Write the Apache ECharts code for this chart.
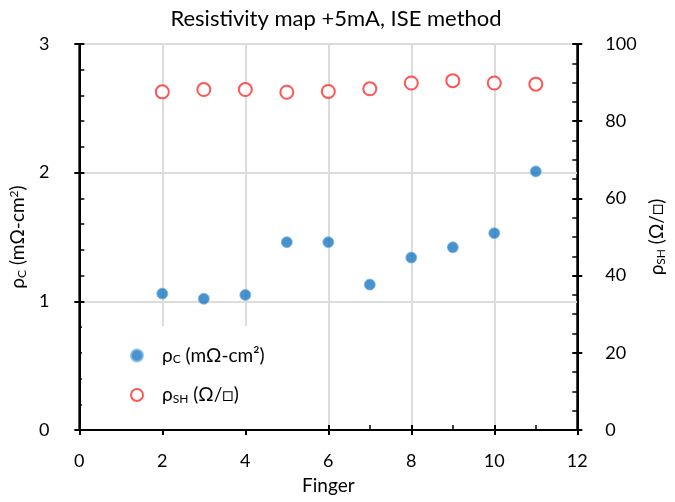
<!DOCTYPE html>
<html>
<head>
<meta charset="utf-8">
<script src="https://cdn.jsdelivr.net/npm/echarts@6/dist/echarts.min.js"></script>
<style>
  html, body { margin: 0; padding: 0; background: #fff; }
  #chart { width: 675px; height: 502px; }
</style>
</head>
<body>
<div id="chart"></div>
<script>
// values
const fingers = [2, 3, 4, 5, 6, 7, 8, 9, 10, 11]
const rhoC = [1.06, 1.02, 1.05, 1.46, 1.46, 1.13, 1.34, 1.42, 1.53, 2.01]
const rhoSH = [87.6, 88.2, 88.2, 87.5, 87.7, 88.4, 89.9, 90.5, 89.9, 89.6]

const FONT = 'Lato'
const blue = '#1a78c0'
const red = '#ff2a2a'

const rich = {
  n: { fontFamily: FONT, fontSize: 19, color: '#000' },
  s: { fontFamily: FONT, fontSize: 12, color: '#000', padding: [8, 0, 0, 0] },
  p: { fontFamily: FONT, fontSize: 12, color: '#000', padding: [0, 0, 8, 0] }
}

const chart = echarts.init(document.getElementById('chart'))

const tickLine = { color: '#000', width: 2 }
function minor(n) {
  return { show: true, splitNumber: n, length: 5, lineStyle: { color: '#000', width: 1.5 } }
}
// extra axis that only adds the outer half of the major ticks
function outerTicks(base) {
  return Object.assign({
    type: 'value',
    axisLine: { show: true, onZero: false, lineStyle: { color: '#000', width: 2 } },
    axisLabel: { show: false },
    splitLine: { show: false },
    axisTick: { show: true, inside: false, length: 5, lineStyle: tickLine }
  }, base)
}

const option = {
  animation: false,
  backgroundColor: '#fff',
  title: {
    text: 'Resistivity map +5mA, ISE method',
    left: 331,
    textAlign: 'center',
    top: 3,
    textStyle: { fontFamily: FONT, fontSize: 22, fontWeight: 'normal', color: '#000' }
  },
  grid: {
    left: 79, right: 92, top: 44, bottom: 72,
    show: true, borderColor: '#000', borderWidth: 2
  },
  legend: {
    orient: 'vertical',
    left: 82,
    top: 326,
    padding: [20, 30, 24, 48],
    itemGap: 20,
    itemWidth: 12,
    itemHeight: 12,
    backgroundColor: '#fff',
    data: ['rhoC', 'rhoSH'],
    formatter: function (name) {
      return name === 'rhoC' ? '{n|ρ}{s|C}{n| (mΩ-cm²)}' : '{n|ρ}{s|SH}{n| (Ω/□)}'
    },
    textStyle: { rich: rich, padding: [0, 0, 0, 14] }
  },
  xAxis: [{
    type: 'value',
    position: 'bottom',
    min: 0, max: 12, interval: 2,
    name: 'Finger',
    nameLocation: 'middle',
    nameGap: 46,
    nameTextStyle: { fontFamily: FONT, fontSize: 19, color: '#000' },
    axisLine: { onZero: false, lineStyle: { color: '#000', width: 2 } },
    axisTick: { inside: true, length: 5, lineStyle: tickLine },
    minorTick: minor(2),
    axisLabel: { margin: 22, fontFamily: FONT, fontSize: 18, color: '#000' },
    splitLine: { show: true, lineStyle: { color: '#dcdcdc', width: 2 } }
  }, outerTicks({ position: 'bottom', min: 0, max: 12, interval: 2 })],
  yAxis: [{
    type: 'value',
    position: 'left',
    min: 0, max: 3, interval: 1,
    name: '{n|ρ}{s|C}{n| (mΩ-cm}{p|2}{n|)}',
    nameLocation: 'middle',
    nameRotate: 90,
    nameGap: 47,
    nameTextStyle: { rich: rich },
    axisLine: { show: true, onZero: false, lineStyle: { color: '#000', width: 2 } },
    axisTick: { show: true, inside: true, length: 5, lineStyle: tickLine },
    minorTick: minor(5),
    axisLabel: { margin: 30, fontFamily: FONT, fontSize: 18, color: '#000' },
    splitLine: { show: true, lineStyle: { color: '#dcdcdc', width: 2 } }
  }, {
    type: 'value',
    position: 'right',
    min: 0, max: 100, interval: 20,
    name: '{n|ρ}{s|SH}{n| (Ω/□)}',
    nameLocation: 'middle',
    nameRotate: 90,
    nameGap: 56,
    nameTextStyle: { rich: rich },
    axisLine: { show: true, onZero: false, lineStyle: { color: '#000', width: 2 } },
    axisTick: { show: true, inside: true, length: 5, lineStyle: tickLine },
    minorTick: minor(4),
    axisLabel: { margin: 28, fontFamily: FONT, fontSize: 18, color: '#000' },
    splitLine: { show: false }
  },
  outerTicks({ position: 'left', min: 0, max: 3, interval: 1 }),
  outerTicks({ position: 'right', min: 0, max: 100, interval: 20 })],
  series: [{
    name: 'rhoC',
    type: 'scatter',
    xAxisIndex: 0,
    yAxisIndex: 0,
    symbolSize: 11,
    itemStyle: { color: blue, borderColor: '#7fb8e6', borderWidth: 1 },
    data: fingers.map((f, i) => [f, rhoC[i]])
  }, {
    name: 'rhoSH',
    type: 'scatter',
    xAxisIndex: 0,
    yAxisIndex: 1,
    symbolSize: 13,
    itemStyle: { color: '#fff', borderColor: red, borderWidth: 2 },
    data: fingers.map((f, i) => [f, rhoSH[i]])
  },
  // empty series so the tick-only axes are bound to the grid
  { type: 'scatter', xAxisIndex: 1, yAxisIndex: 2, data: [] },
  { type: 'scatter', xAxisIndex: 1, yAxisIndex: 3, data: [] }]
}

chart.setOption(option)
</script>
</body>
</html>
